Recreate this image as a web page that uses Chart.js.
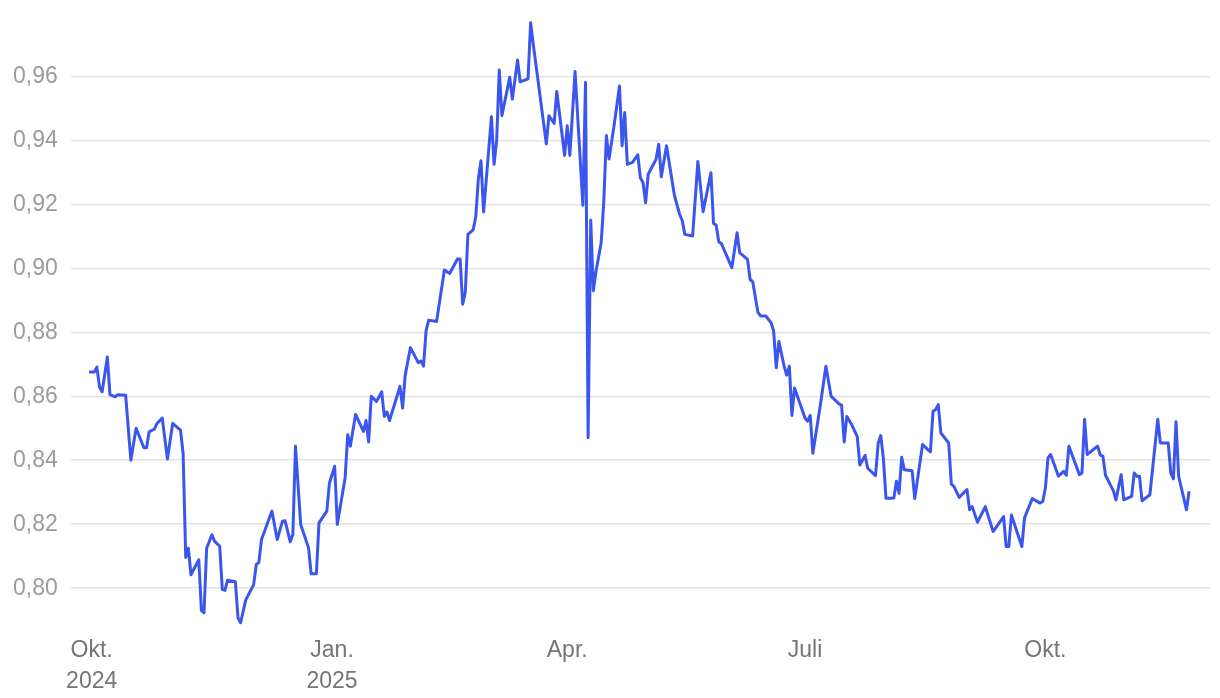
<!DOCTYPE html>
<html lang="de">
<head>
<meta charset="utf-8">
<title>Kursverlauf</title>
<script src="https://cdn.jsdelivr.net/npm/chart.js@4.4.1/dist/chart.umd.min.js"></script>
<style>
  html, body { margin: 0; padding: 0; background: #fff; }
  #wrap { width: 1220px; height: 698px; position: relative; }
</style>
</head>
<body>
<div id="wrap"><canvas id="myChart"></canvas></div>
<script>
// days since 1 Oct 2024
const days = [-1,1,2,3,4,6,7,9,10,13,15,17,20,21,22,24,25,27,29,31,34,35,36,37,38,41,42,43,44,46,47,49,50,51,52,55,56,57,59,62,63,64,65,69,71,73,74,76,77,78,80,83,84,86,87,90,91,93,94,97,98,99,101,104,105,106,107,109,111,112,113,114,118,119,120,122,125,126,127,128,129,132,135,137,140,141,142,143,144,146,147,148,149,150,153,154,155,156,157,160,161,163,164,167,168,169,174,175,177,178,181,182,183,185,188,189,190,191,192,193,195,196,197,198,200,202,203,204,205,207,209,210,211,212,213,216,217,218,220,223,225,226,227,230,232,234,237,238,239,240,241,245,247,248,251,252,253,255,256,258,260,261,262,263,265,266,267,268,269,273,274,275,276,279,281,283,286,287,288,289,291,293,294,296,297,300,301,302,303,304,306,307,308,309,310,311,314,315,318,320,321,322,323,324,325,328,329,330,332,335,336,337,339,342,345,349,350,351,352,356,357,358,360,363,364,365,366,367,370,372,373,374,378,379,380,381,385,386,387,388,391,392,394,395,398,399,400,401,402,405,408,409,412,413,414,415,416,419,420];

const rates = [0.8676,0.8676,0.8691,0.8629,0.8614,0.8723,0.8605,0.8598,0.8605,0.8603,0.8400,0.8500,0.8439,0.8439,0.8489,0.8497,0.8515,0.8532,0.8404,0.8515,0.8494,0.8421,0.8096,0.8125,0.8042,0.8089,0.7930,0.7923,0.8125,0.8167,0.8147,0.8131,0.7996,0.7993,0.8025,0.8020,0.7907,0.7892,0.7964,0.8011,0.8074,0.8081,0.8152,0.8241,0.8152,0.8209,0.8211,0.8145,0.8168,0.8444,0.8199,0.8126,0.8045,0.8045,0.8204,0.8241,0.8329,0.8381,0.8199,0.8345,0.8480,0.8444,0.8543,0.8490,0.8524,0.8457,0.8600,0.8584,0.8614,0.8537,0.8551,0.8524,0.8631,0.8563,0.8666,0.8752,0.8705,0.8710,0.8694,0.8806,0.8838,0.8834,0.8995,0.8984,0.9029,0.9029,0.8888,0.8925,0.9106,0.9120,0.9161,0.9280,0.9336,0.9176,0.9474,0.9325,0.9400,0.9620,0.9477,0.9597,0.9529,0.9651,0.9583,0.9592,0.9768,0.9701,0.9389,0.9477,0.9453,0.9553,0.9353,0.9446,0.9353,0.9615,0.9197,0.9581,0.8470,0.9150,0.8930,0.8990,0.9080,0.9210,0.9415,0.9342,0.9450,0.9570,0.9383,0.9487,0.9325,0.9331,0.9355,0.9282,0.9268,0.9205,0.9294,0.9341,0.9388,0.9286,0.9383,0.9229,0.9169,0.9150,0.9106,0.9101,0.9334,0.9177,0.9299,0.9140,0.9135,0.9083,0.9077,0.9002,0.9111,0.9049,0.9028,0.8965,0.8958,0.8862,0.8851,0.8851,0.8830,0.8804,0.8689,0.8771,0.8694,0.8666,0.8694,0.8540,0.8626,0.8532,0.8522,0.8540,0.8422,0.8579,0.8694,0.8600,0.8576,0.8572,0.8457,0.8537,0.8509,0.8474,0.8385,0.8415,0.8375,0.8352,0.8453,0.8477,0.8406,0.8281,0.8281,0.8282,0.8334,0.8297,0.8409,0.8370,0.8367,0.8280,0.8449,0.8433,0.8426,0.8553,0.8558,0.8574,0.8485,0.8454,0.8325,0.8318,0.8284,0.8308,0.8245,0.8255,0.8206,0.8255,0.8177,0.8224,0.8130,0.8130,0.8229,0.8130,0.8219,0.8240,0.8280,0.8266,0.8271,0.8313,0.8407,0.8418,0.8350,0.8365,0.8353,0.8444,0.8355,0.8360,0.8528,0.8418,0.8444,0.8416,0.8413,0.8353,0.8305,0.8276,0.8355,0.8276,0.8287,0.8360,0.8350,0.8350,0.8273,0.8292,0.8528,0.8454,0.8454,0.8360,0.8342,0.8520,0.8350,0.8245,0.8303];

// x axis: first day of Okt, Jan, Apr, Juli, Okt
const tickDays = [0, 92, 182, 273, 365];
const tickLabels = [['Okt.', '2024'], ['Jan.', '2025'], 'Apr.', 'Juli', 'Okt.'];
const yTicks = [0.80, 0.82, 0.84, 0.86, 0.88, 0.90, 0.92, 0.94, 0.96];

const points = days.map((d, i) => ({ x: d, y: rates[i] }));

const ctx = document.getElementById('myChart');

const myChart = new Chart(ctx, {
    type: 'line',
    data: {
        datasets: [{
            data: points,
            borderColor: '#3b56ee',
            borderWidth: 3,
            borderJoinStyle: 'round',
            pointRadius: 0,
            tension: 0,
            fill: false,
            clip: false
        }]
    },
    options: {
        responsive: true,
        maintainAspectRatio: false,
        animation: false,
        layout: {
            padding: { top: 0, right: 10, left: 0, bottom: -3 }
        },
        plugins: {
            legend: { display: false },
            tooltip: { enabled: false }
        },
        scales: {
            x: {
                type: 'linear',
                min: -8,
                max: 428,
                grid: { display: false },
                border: { display: false },
                afterBuildTicks: (scale) => {
                    scale.ticks = tickDays.map(v => ({ value: v }));
                },
                ticks: {
                    autoSkip: false,
                    maxRotation: 0,
                    padding: 4,
                    color: '#757575',
                    font: { family: 'Liberation Sans, Arial, sans-serif', size: 23, lineHeight: 1.34 },
                    callback: (value, index) => tickLabels[index]
                }
            },
            y: {
                min: 0.789,
                max: 0.9755,
                grid: { color: '#e3e3e3', lineWidth: 1.5, drawTicks: false },
                border: { display: false },
                afterBuildTicks: (scale) => {
                    scale.ticks = yTicks.map(v => ({ value: v }));
                },
                ticks: {
                    padding: 13,
                    color: '#9b9b9b',
                    font: { family: 'Liberation Sans, Arial, sans-serif', size: 23 },
                    callback: (value) => value.toFixed(2).replace('.', ',')
                }
            }
        }
    }
});
</script>
</body>
</html>
